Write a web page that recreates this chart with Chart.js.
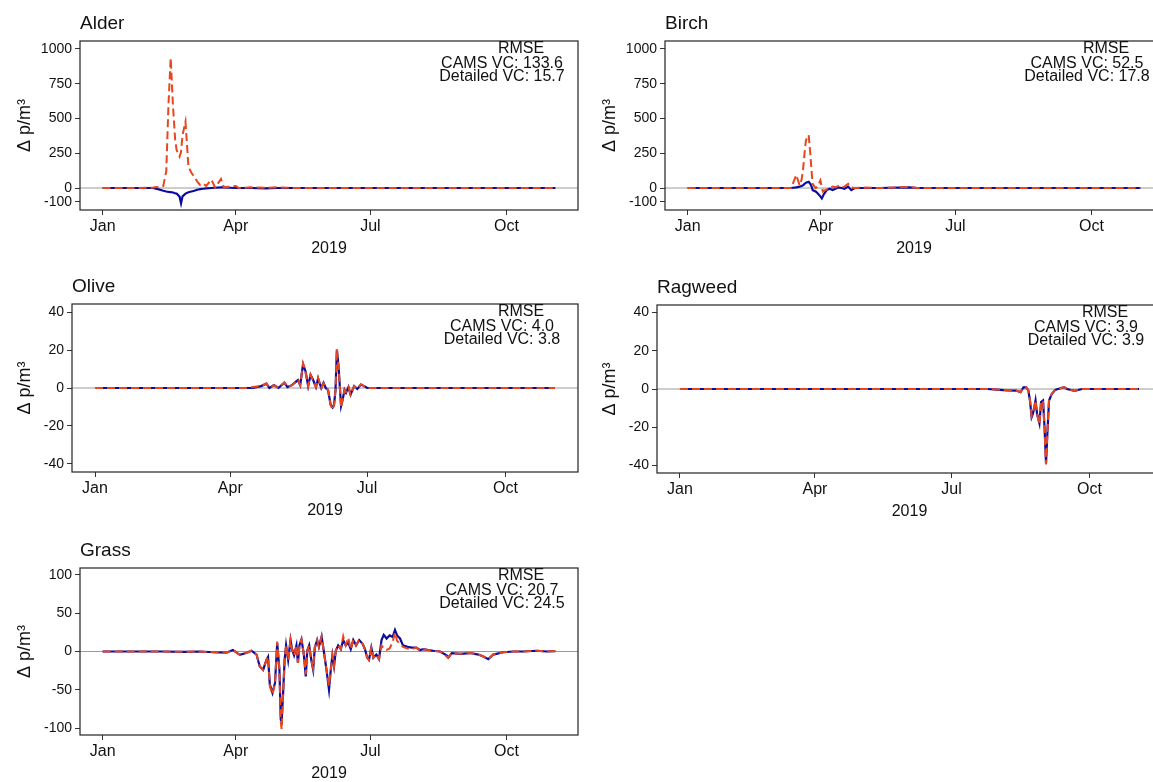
<!DOCTYPE html>
<html>
<head>
<meta charset="utf-8">
<script src="https://cdn.jsdelivr.net/npm/chart.js@4.4.1/dist/chart.umd.min.js"></script>
<style>
  html, body { margin: 0; padding: 0; background: #fff; width: 1153px; height: 782px; overflow: hidden; }
  canvas { position: absolute; }
</style>
</head>
<body>
<canvas id="alder" width="590" height="258" style="left:0px;top:0px"></canvas>
<canvas id="birch" width="580" height="258" style="left:590px;top:0px"></canvas>
<canvas id="olive" width="590" height="258" style="left:0px;top:262px"></canvas>
<canvas id="ragweed" width="580" height="259" style="left:590px;top:262px"></canvas>
<canvas id="grass" width="590" height="258" style="left:0px;top:525px"></canvas>
<script>
// day of year 2019 (0 = 1 Jan), values are differences in pollen/m3
const monthDays = [0, 90, 181, 273];
const monthLabels = ['Jan', 'Apr', 'Jul', 'Oct'];

const alderDays     = [0, 20, 34, 36, 38, 41, 43, 44.5, 46, 47.5, 49, 50, 52, 53, 54, 56, 58, 60, 62, 64, 66, 68, 70, 73.5, 76, 80, 82, 86, 90, 92, 100, 110, 118, 130, 306];
const alderCams     = [0, 0, 2, 8, 5, 15, 120, 600, 935, 600, 350, 273, 225, 260, 380, 477, 153, 110, 81, 45, 20, 30, 15, 60, 5, 65, 5, 10, 15, 0, 5, 2, 5, 0, 0];
const alderDetailed = [0, 0, 0, -5, -10, -20, -25, -28, -30, -32, -38, -40, -62, -110, -60, -40, -30, -25, -20, -12, -8, -5, -3, 0, 2, 5, 4, 2, 0, 0, 0, -2, 0, 0, 0];

const birchDays     = [0, 70, 73.4, 75.7, 77, 78, 79, 80, 81.8, 82.9, 84, 84.5, 86.5, 87.8, 89.7, 90.7, 91.4, 92, 94, 96, 98, 100, 102, 104, 106, 108.5, 110.6, 113, 120, 130, 150, 155, 306];
const birchCams     = [0, 0, 94, 20, 60, 130, 250, 345, 381, 250, 90, 30, 0, 10, 55, 10, -25, -20, -10, 0, 10, 5, 15, 5, 10, 30, 5, 0, 3, 0, 8, 0, 0];
const birchDetailed = [0, 0, 5, 10, 15, 20, 30, 38, 45, 30, 5, -15, -25, -38, -60, -75, -60, -45, -15, -5, -15, -5, 5, 0, -5, 10, -15, 0, 0, 0, 5, 0, 0];

const oliveDays     = [0, 100, 105, 110.5, 114, 116, 119, 122, 126, 128, 131, 135, 136.5, 138.4, 140, 141.8, 143.4, 145, 147, 148.4, 150.5, 152, 153.5, 155, 156.7, 158, 159, 160, 160.9, 162, 163, 163.7, 164.8, 166, 167, 168.6, 170, 172.4, 174.5, 176.9, 179, 181.2, 306];
const oliveCams     = [0, 0, 0.5, 1, 2.5, 0, 1.5, 0, 3, 0.5, 1.5, 4.5, 1.5, 13, 9, 1, 7, 4, 0.5, 5.5, 0, 2.5, 0, -1, -9, -11.5, -9, -1, 20.5, 11, -1, -10.5, -6, -1, -2, 0.5, -3.5, 1, -0.5, 2, 1, 0, 0];
const oliveDetailed = [0, 0, 0, 1, 2.3, 0, 1.5, 0, 2.8, 0.5, 1.5, 4.2, 1.5, 12.5, 9, 1, 7, 4.5, 0.5, 5, 0, 2.8, 0, -1, -8.6, -10.3, -9, -1, 20.3, 11.6, -1, -9.5, -6, -1, -2.5, 0.5, -3.5, 1, -0.5, 1.8, 1, 0, 0];

const ragweedDays     = [0, 205, 211, 218, 224, 227, 229, 230.7, 232.2, 233.3, 234.4, 235.2, 236, 237, 238, 239.6, 240.7, 242, 243, 244, 244.9, 246, 247.8, 250, 252, 256, 258, 263, 268, 306];
const ragweedCams     = [0, 0, -0.3, -0.7, -0.8, -1.6, 0.9, 1, -0.7, -6, -14, -12, -10, -6, -13, -18.5, -7, -6, -21, -39.5, -23, -6, -2.6, -0.5, 0, 1, 0, -1, 0, 0];
const ragweedDetailed = [0, 0, -0.3, -0.7, -0.8, -1.6, 0.9, 1, -0.7, -6, -14.7, -13, -10.3, -6, -12.8, -18, -6.8, -6, -20, -39, -23.4, -6, -2.6, -0.5, 0, 1, 0, -1, 0, 0];

const grassDays     = [0, 40, 55, 65.6, 75, 83.7, 88, 92.7, 97, 100.6, 104, 106.2, 108.5, 110.7, 111.8, 113, 114.8, 116.5, 118, 119.5, 120.4, 121, 122, 123, 124, 125.4, 127, 128, 129.4, 131, 132, 133, 134.4, 136, 137.3, 138.3, 139.6, 141, 142.3, 143.4, 145, 146.2, 148, 149.6, 151.3, 153, 154.2, 155.3, 156.4, 157.6, 159.2, 161, 162.6, 164.3, 166, 167.7, 169.4, 171.3, 173.4, 175.7, 177.3, 178.8, 180, 181.6, 183, 185, 186.8, 188.5, 190, 191.9, 194, 196, 197.6, 199, 201, 203, 206, 209, 212, 214.5, 217, 220, 223.5, 228, 232.5, 233.6, 236, 241.7, 248.3, 254, 257.3, 260.7, 264, 270.8, 277.6, 284.3, 293.4, 300.2, 306];
const grassCams     = [0, 0, -0.5, 0, -1, -1.5, 2, -4.3, -2, 1, -4, -19.5, -24, -11, -7, -45, -56, -41, 13, -24, -92, -102, -54, -11, 8, -11, 15, 3, -5, 8, -15, 8, 16, -4, -30, 1, 8, -11, -22, 5, 15, 6, 19.5, -1, -24, -45, -24, -5, -19, 1, 8, 3, 20, 8, 18, 3, 15, 8, 15, 10, 3, -8, -11, 5, -8, -4, -10, 8, 4, 2, 4, 12, 25, 14, 10, 6, 4, 3, 5, 1, 3, 2, 1, 0, -6.5, -8, -2, -3, -2, -4, -6.5, -10, -4, -1, 0, 0, 1, 0, 0.5];
const grassDetailed = [0, 0, -0.5, 0, -1, -1.5, 2, -4.3, -2, 1, -4, -19.5, -24, -11, -7, -43, -54, -41, 11, -24, -89, -91, -54, -11, 8, -11, 15, 3, -5, 8, -15, 8, 16, -4, -32.5, 1, 8, -11, -24, 5, 15, 6, 19.5, -1, -24, -50, -24, -5, -19, 1, 8, 3, 15, 8, 12, 3, 15, 8, 15, 10, 3, -8, -11, 5, -8, -4, -10, 15, 21.7, 17, 21, 19, 28, 21, 17, 8, 6, 5, 5, 2, 3, 2, 1, 0, -5, -8, -2, -3, -2, -4, -6.5, -10, -4, -1, 0, 0, 1, 0, 0.5];

const bigTicks = [-100, 0, 250, 500, 750, 1000];
const smallTicks = [-40, -20, 0, 20, 40];
const grassTicks = [-100, -50, 0, 50, 100];

const FONT = '"Liberation Sans", Arial, sans-serif';
const INK = '#111';

function pts(days, vals) {
  return days.map((d, i) => ({x: d, y: vals[i]}));
}

const panelDecor = {
  id: 'panelDecor',
  beforeDatasetsDraw(chart) {
    const ctx = chart.ctx, a = chart.chartArea;
    const y0 = chart.scales.y.getPixelForValue(0);
    ctx.save();
    ctx.strokeStyle = '#9a9a9a';
    ctx.lineWidth = 1;
    ctx.beginPath();
    ctx.moveTo(a.left, y0);
    ctx.lineTo(a.right, y0);
    ctx.stroke();
    ctx.restore();
  },
  afterDraw(chart) {
    const ctx = chart.ctx, a = chart.chartArea;
    const o = chart.options.plugins.panelDecor;
    ctx.save();
    ctx.strokeStyle = '#222';
    ctx.lineWidth = 1.2;
    ctx.strokeRect(a.left, a.top, a.right - a.left, a.bottom - a.top);
    ctx.fillStyle = INK;
    ctx.font = '19px ' + FONT;
    ctx.textAlign = 'left';
    ctx.textBaseline = 'alphabetic';
    ctx.fillText(o.name, a.left, a.top - 12);
    ctx.font = '16px ' + FONT;
    ctx.textAlign = 'center';
    ctx.textBaseline = 'middle';
    ctx.fillText('RMSE', a.right - 57, a.top + 8);
    ctx.fillText('CAMS VC: ' + o.cams, a.right - 76, a.top + 23);
    ctx.fillText('Detailed VC: ' + o.detailed, a.right - 76, a.top + 36);
    ctx.restore();
  }
};

function makePanel(id, p) {
  const config = {
    type: 'line',
    data: {
      datasets: [
        {
          data: pts(p.days, p.cams),
          borderColor: '#E8461E',
          borderWidth: 2,
          borderDash: [8, 4],
          pointRadius: 0,
          tension: 0,
          order: 0
        },
        {
          data: pts(p.days, p.detailed),
          borderColor: '#0C0C9C',
          borderWidth: 2.2,
          pointRadius: 0,
          tension: 0,
          order: 1
        }
      ]
    },
    options: {
      responsive: false,
      animation: false,
      devicePixelRatio: 1,
      layout: { padding: { left: 0, top: p.padTop, right: p.padRight, bottom: 0 } },
      plugins: {
        legend: { display: false },
        tooltip: { enabled: false },
        panelDecor: { name: p.name, cams: p.rmseCams, detailed: p.rmseDetailed }
      },
      scales: {
        x: {
          type: 'linear',
          min: -15.3,
          max: 321.3,
          afterBuildTicks: (scale) => { scale.ticks = monthDays.map(v => ({value: v})); },
          afterFit: (scale) => { scale.height = 48; },
          grid: { drawOnChartArea: false, drawTicks: true, tickLength: 5, color: '#333' },
          border: { display: false },
          ticks: {
            autoSkip: false, maxRotation: 0, padding: 2, color: INK,
            font: { family: FONT, size: 16 },
            callback: (v) => monthLabels[monthDays.indexOf(v)]
          },
          title: { display: true, text: '2019', color: INK, font: { family: FONT, size: 16 }, padding: { top: 0, bottom: 0 } }
        },
        y: {
          type: 'linear',
          min: p.yMin,
          max: p.yMax,
          afterBuildTicks: (scale) => { scale.ticks = p.ticks.map(v => ({value: v})); },
          afterFit: (scale) => { scale.width = p.yWidth; },
          grid: { drawOnChartArea: false, drawTicks: true, tickLength: 5, color: '#333' },
          border: { display: false },
          ticks: { padding: 3, color: INK, font: { family: FONT, size: 14 }, callback: (v) => String(v) },
          title: { display: true, text: 'Δ p/m³', color: INK, font: { family: FONT, size: 18 }, padding: { top: p.titlePad, bottom: 0 } }
        }
      }
    },
    plugins: [panelDecor]
  };
  return new Chart(document.getElementById(id), config);
}

makePanel('alder', {
  name: 'Alder', days: alderDays, cams: alderCams, detailed: alderDetailed,
  rmseCams: '133.6', rmseDetailed: '15.7',
  yMin: -158, yMax: 1057, ticks: bigTicks, yWidth: 80, padTop: 41, padRight: 12, titlePad: 14
});
makePanel('birch', {
  name: 'Birch', days: birchDays, cams: birchCams, detailed: birchDetailed,
  rmseCams: '52.5', rmseDetailed: '17.8',
  yMin: -158, yMax: 1057, ticks: bigTicks, yWidth: 75, padTop: 41, padRight: 7, titlePad: 9.5
});
makePanel('olive', {
  name: 'Olive', days: oliveDays, cams: oliveCams, detailed: oliveDetailed,
  rmseCams: '4.0', rmseDetailed: '3.8',
  yMin: -44.4, yMax: 44.4, ticks: smallTicks, yWidth: 72, padTop: 42, padRight: 12, titlePad: 14.5
});
makePanel('ragweed', {
  name: 'Ragweed', days: ragweedDays, cams: ragweedCams, detailed: ragweedDetailed,
  rmseCams: '3.9', rmseDetailed: '3.9',
  yMin: -44, yMax: 44, ticks: smallTicks, yWidth: 67, padTop: 43, padRight: 8, titlePad: 9.2
});
makePanel('grass', {
  name: 'Grass', days: grassDays, cams: grassCams, detailed: grassDetailed,
  rmseCams: '20.7', rmseDetailed: '24.5',
  yMin: -109, yMax: 109, ticks: grassTicks, yWidth: 80, padTop: 43, padRight: 12, titlePad: 14.5
});
</script>
</body>
</html>
